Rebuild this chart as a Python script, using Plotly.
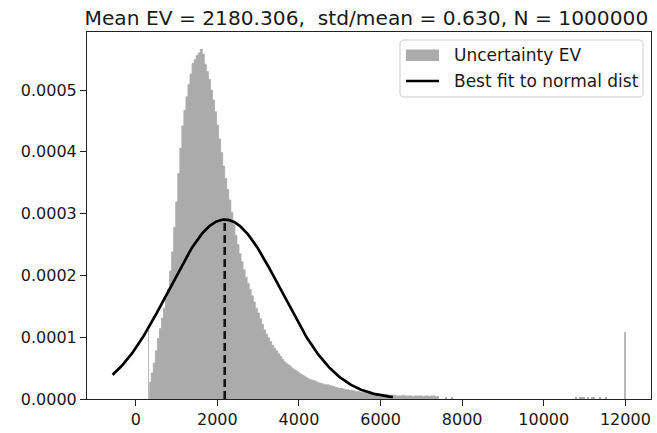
import math
import plotly.graph_objects as go

# ---------------- data ----------------
title_text = "Mean EV = 2180.306,  std/mean = 0.630, N = 1000000"
mean_ev = 2180.306
std_over_mean = 0.630

# main histogram body: bins of width 50 starting at 330 (density in units of 1e-4)
body_first_edge = 330
body_bin_width = 50
body_density_e4 = [
    0.27, 0.42, 0.58, 0.78, 0.98, 1.14, 1.31, 1.47, 1.63, 1.78,
    2.07, 2.38, 2.78, 3.19, 3.65, 4.06, 4.42, 4.67, 4.89, 5.09,
    5.26, 5.43, 5.49, 5.56, 5.60,
    5.66, 5.58, 5.42, 5.30, 5.17, 5.00, 4.84, 4.65, 4.43, 4.21,
    3.99, 3.77, 3.57, 3.39, 3.22, 3.02, 2.82, 2.65, 2.50, 2.35,
    2.22, 2.09, 1.97, 1.87, 1.77, 1.67, 1.57, 1.47, 1.39, 1.30,
    1.21, 1.12, 1.05, 0.99, 0.93, 0.87, 0.82, 0.78, 0.73, 0.69,
    0.64, 0.60, 0.57, 0.55, 0.52, 0.49, 0.47, 0.45, 0.42, 0.40,
    0.38, 0.36, 0.34, 0.32, 0.31, 0.30, 0.29, 0.27, 0.26, 0.25,
    0.24, 0.23, 0.23, 0.22, 0.21, 0.20, 0.19, 0.18, 0.17, 0.17,
    0.16, 0.15, 0.15, 0.14, 0.14, 0.13, 0.12, 0.12, 0.11, 0.11,
    0.10, 0.10, 0.09, 0.09, 0.09, 0.08, 0.08, 0.08, 0.07, 0.07,
    0.07, 0.07, 0.06, 0.06, 0.06, 0.06, 0.05,
    0.05, 0.05, 0.06, 0.05, 0.05, 0.05, 0.05, 0.04, 0.05, 0.05,
    0.05, 0.05, 0.04, 0.05, 0.05, 0.04, 0.05, 0.05, 0.04, 0.04,
]

# sparse far-tail bins (centers, density 1e-4)
sparse_centers = [7605, 7755, 10780, 10880, 10930, 10980, 11080, 11180, 11230, 11380, 11530]
sparse_density_e4 = [0.04, 0.04, 0.02, 0.02, 0.03, 0.02, 0.02, 0.03, 0.02, 0.02, 0.02]

# clipped end bins (spikes at the limits)
clip_centers = [311.7, 11988.3]
clip_density_e4 = [1.12, 1.09]
clip_bin_width = 23.4

x_tick_values = [0, 2000, 4000, 6000, 8000, 10000, 12000]
x_tick_labels = ["0", "2000", "4000", "6000", "8000", "10000", "12000"]
y_tick_values = [0.0, 0.0001, 0.0002, 0.0003, 0.0004, 0.0005]

legend_labels = ["Uncertainty EV", "Best fit to normal dist"]

# ---------------- build figure ----------------
E4 = 1e-4
# contiguous body drawn as a filled step outline (no seams between bins)
step_x, step_y = [], []
for i, v in enumerate(body_density_e4):
    step_x.append(body_first_edge + body_bin_width * i)
    step_y.append(v * E4)
step_x.append(body_first_edge + body_bin_width * len(body_density_e4))
step_y.append(body_density_e4[-1] * E4)

sigma = std_over_mean * mean_ev
n_pts = 300
x_lo, x_hi = mean_ev - 2 * sigma, mean_ev + 3 * sigma
curve_x = [x_lo + (x_hi - x_lo) * k / (n_pts - 1) for k in range(n_pts)]
curve_y = [math.exp(-0.5 * ((x - mean_ev) / sigma) ** 2) / (sigma * math.sqrt(2 * math.pi)) for x in curve_x]
peak = 1.0 / (sigma * math.sqrt(2 * math.pi))

GRAY = "#ababab"
FONT = "DejaVu Sans"
TXT = "#1a1a1a"

fig = go.Figure()
fig.add_trace(go.Scatter(x=step_x, y=step_y, mode="lines", line=dict(shape="hv", width=0.8, color=GRAY),
                         fill="tozeroy", fillcolor=GRAY, showlegend=False, name=legend_labels[0],
                         hoverinfo="skip"))
fig.add_trace(go.Bar(x=sparse_centers, y=[v * E4 for v in sparse_density_e4], width=body_bin_width,
                     marker=dict(color=GRAY, line=dict(width=0)), showlegend=False, name=legend_labels[0]))
fig.add_trace(go.Bar(x=clip_centers, y=[v * E4 for v in clip_density_e4], width=clip_bin_width,
                     marker=dict(color="#b9b9b9", line=dict(width=0)),
                     showlegend=False, name=legend_labels[0]))
fig.add_trace(go.Scatter(x=[mean_ev, mean_ev], y=[0, peak], mode="lines",
                         line=dict(color="#111111", width=2.6, dash="8px,4px"), showlegend=False))
fig.add_trace(go.Scatter(x=curve_x, y=curve_y, mode="lines",
                         line=dict(color="#000000", width=2.7), showlegend=False, name=legend_labels[1]))

# plot-area geometry in pixels (for the hand-drawn legend box)
L, R, T, B = 87, 651, 32, 399
W, H = R - L, B - T


def px(xp, yp):
    return ((xp - L) / W, (B - yp) / H)


def rounded_rect(x0, y0, x1, y1, r):
    pts = [
        ("M", [(x0 + r, y0)]), ("L", [(x1 - r, y0)]), ("Q", [(x1, y0), (x1, y0 + r)]),
        ("L", [(x1, y1 - r)]), ("Q", [(x1, y1), (x1 - r, y1)]), ("L", [(x0 + r, y1)]),
        ("Q", [(x0, y1), (x0, y1 - r)]), ("L", [(x0, y0 + r)]), ("Q", [(x0, y0), (x0 + r, y0)]),
    ]
    s = ""
    for cmd, plist in pts:
        s += cmd + " ".join("%.5f,%.5f" % px(a, b) for a, b in plist) + " "
    return s + "Z"


shapes = [
    dict(type="path", xref="paper", yref="paper", path=rounded_rect(400, 40, 643, 97, 4),
         fillcolor="rgba(255,255,255,0.85)", line=dict(color="#cccccc", width=1), layer="above"),
]
p0 = px(406, 49.5); p1 = px(439, 61)
shapes.append(dict(type="rect", xref="paper", yref="paper", x0=p0[0], y0=p1[1], x1=p1[0], y1=p0[1],
                   fillcolor=GRAY, line=dict(width=0), layer="above"))
q0 = px(406, 81); q1 = px(439, 81)
shapes.append(dict(type="line", xref="paper", yref="paper", x0=q0[0], y0=q0[1], x1=q1[0], y1=q1[1],
                   line=dict(color="#000000", width=2.7), layer="above"))

annotations = []
for label, yp in zip(legend_labels, [55, 81]):
    ax, ay = px(452, yp)
    annotations.append(dict(text=label, xref="paper", yref="paper", x=ax, y=ay, xanchor="left",
                            yanchor="middle", showarrow=False, font=dict(family=FONT, size=17, color=TXT)))

axis_common = dict(showline=True, mirror=True, linecolor="#222222", linewidth=1, ticks="outside",
                   ticklen=6, tickwidth=1, tickcolor="#222222", showgrid=False, zeroline=False,
                   tickfont=dict(family=FONT, size=16, color=TXT))

fig.update_layout(
    width=657, height=433,
    margin=dict(l=L, r=657 - R, t=T, b=433 - B, autoexpand=False),
    paper_bgcolor="white", plot_bgcolor="white",
    bargap=0, barmode="overlay",
    title=dict(text=title_text, x=(L + R) / 2 / 657 - 0.004, xanchor="center", y=1 - 17.5 / 433,
               yanchor="middle", font=dict(family=FONT, size=20.2, color=TXT)),
    xaxis=dict(range=[-1195, 12628], tickvals=x_tick_values, ticktext=x_tick_labels, **axis_common),
    yaxis=dict(range=[0, 0.000594], tickvals=y_tick_values, tickformat=".4f", **axis_common),
    shapes=shapes, annotations=annotations,
)

fig.write_html("out.html", config={"displayModeBar": False},
               post_script="document.body.style.margin='0';document.body.style.padding='0';")
